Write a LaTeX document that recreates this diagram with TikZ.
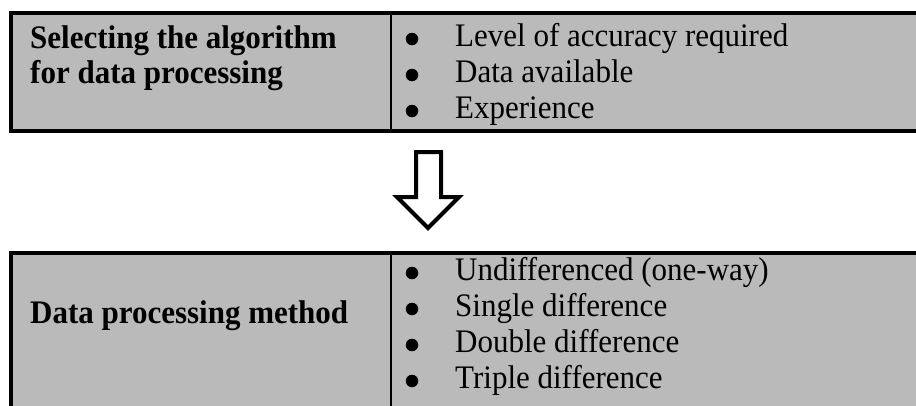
\documentclass[tikz,border=0pt]{standalone}
\usepackage{fontspec}
\setmainfont{Liberation Serif}
\begin{document}
\begin{tikzpicture}[x=1pt,y=-1pt,
  panel/.style={fill=black!27, draw=black, line width=3.5pt},
  divider/.style={draw=black, line width=2.2pt},
  label/.style={font=\fontsize{31}{34}\selectfont\bfseries, anchor=base west, inner sep=0pt, align=left, yscale=1.06},
  item/.style={font=\fontsize{31}{34}\selectfont, anchor=base west, inner sep=0pt, yscale=1.06},
  dot/.style={circle, fill=black, inner sep=0pt, minimum size=12.5pt},
  blockarrow/.style={draw=black, line width=4pt, fill=white, line join=miter}]
\useasboundingbox (0,0) rectangle (916,405);
\begin{scope}
\clip (0,0) rectangle (916,405);
% top panel
\draw[panel] (11,13) rectangle (940,131);
\draw[divider] (391,13) -- (391,131);
% bottom panel
\draw[panel] (11,253) rectangle (940,430);
\draw[divider] (391,253) -- (391,430);
\end{scope}
% top texts
\node[label] (sel1) at (30,48) {Selecting the algorithm};
\node[label] (sel2) at (30,83) {for data processing};
\node[dot] (b1) at (412,39) {};
\node[dot] (b2) at (412,75) {};
\node[dot] (b3) at (412,111) {};
\node[item] (i1) at (455,46) {Level of accuracy required};
\node[item] (i2) at (455,82) {Data available};
\node[item] (i3) at (455,118) {Experience};
% arrow
\draw[blockarrow] (416,152) -- (441,152) -- (441,197) -- (459,197) -- (428,228) -- (397,197) -- (416,197) -- cycle;
% bottom texts
\node[label] (dpm) at (30,323) {Data processing method};
\node[dot] (c1) at (412,273) {};
\node[dot] (c2) at (412,309) {};
\node[dot] (c3) at (412,345) {};
\node[dot] (c4) at (412,381) {};
\node[item] (j1) at (455,280) {Undifferenced (one-way)};
\node[item] (j2) at (455,316) {Single difference};
\node[item] (j3) at (455,352) {Double difference};
\node[item] (j4) at (455,388) {Triple difference};
\end{tikzpicture}
\end{document}
